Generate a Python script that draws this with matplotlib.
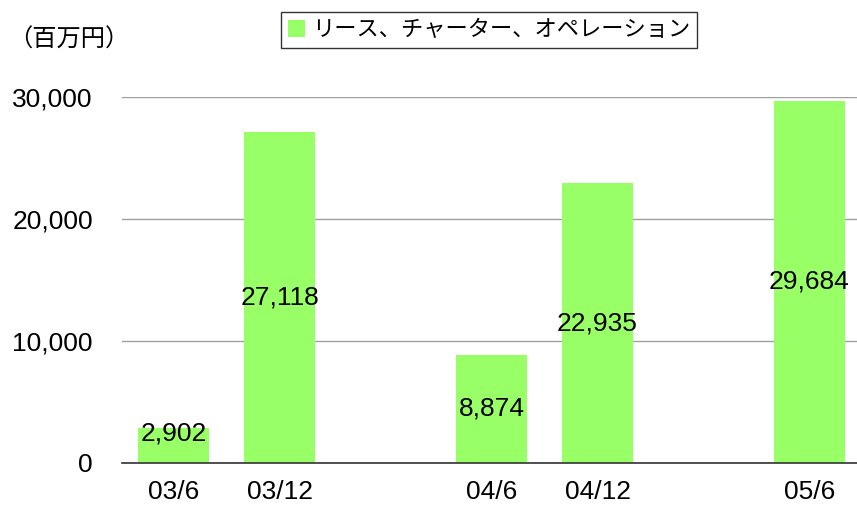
import numpy as np
import matplotlib.pyplot as plt

# ============================== DATA ==============================
periods = ['03/6', '03/12', '', '04/6', '04/12', '', '05/6']
values = [2902, 27118, None, 8874, 22935, None, 29684]
series_name = 'リース、チャーター、オペレーション'
y_ticks = [0, 10000, 20000, 30000]

# ============================== STYLE =============================
plt.rcParams['font.family'] = ['Liberation Sans', 'Noto Sans CJK JP', 'DejaVu Sans']
bar_color = '#99FF66'
fs = 19

# ============================== PLOT ==============================
fig = plt.figure(figsize=(8.57, 5.05), dpi=100)
ax = fig.add_axes([122/857, 42/505, 1 - 122/857, 366/505])

x = np.arange(len(periods))
ok = [i for i, v in enumerate(values) if v is not None]
xv = x[ok]
yv = np.array([values[i] for i in ok])

ax.bar(xv, yv, width=0.67, color=bar_color, zorder=3, label=series_name)

# data labels centred in bars (kept above the axis for short bars)
for xi, yi in zip(xv, yv):
    ax.text(xi, max(yi/2, 2450), f'{yi:,}', ha='center', va='center',
            fontsize=fs, zorder=4)

ax.set_xlim(-0.49, 6.45)
ax.set_ylim(0, 30000)
ax.set_xticks(x)
ax.set_xticklabels(periods, fontsize=fs)
ax.set_yticks(y_ticks)
ax.set_yticklabels([f'{t:,}' for t in y_ticks], fontsize=fs)
ax.tick_params(axis='both', length=0)
ax.tick_params(axis='y', pad=21)
ax.tick_params(axis='x', pad=12)

ax.yaxis.grid(True, color='#A0A0A0', linewidth=1.0, zorder=0)
for s in ['left', 'right', 'top']:
    ax.spines[s].set_visible(False)
ax.spines['bottom'].set_color('#333333')
ax.spines['bottom'].set_linewidth(1.2)
ax.spines['bottom'].set_zorder(5)

# unit label
fig.text(8/857, 1 - 40/505, '（百万円）', fontsize=17.5, va='center', ha='left',
         family=['Noto Sans CJK JP', 'DejaVu Sans'])

# legend
leg = fig.legend(loc='center', bbox_to_anchor=(489/857, 1 - 30/505),
                 frameon=True, fancybox=False, handlelength=0.8,
                 handleheight=0.8, handletextpad=0.3, borderpad=0.3,
                 prop={'family': ['Noto Sans CJK JP', 'DejaVu Sans'], 'size': 16})
leg.get_frame().set_edgecolor('black')
leg.get_frame().set_linewidth(1.0)

plt.savefig('out.png', dpi=100)
